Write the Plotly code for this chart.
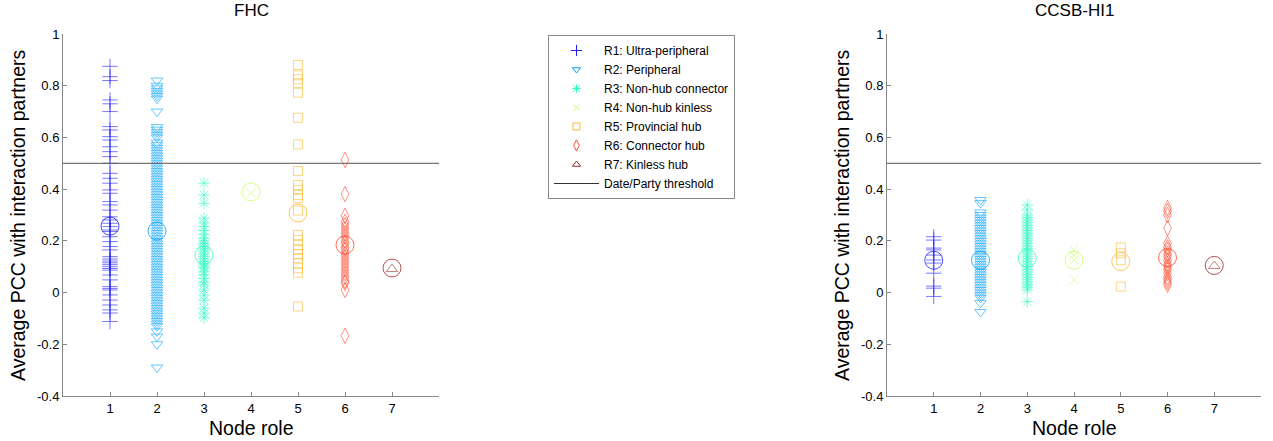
import plotly.graph_objects as go

# Node roles and their display styling
roles = ["R1: Ultra-peripheral", "R2: Peripheral", "R3: Non-hub connector",
         "R4: Non-hub kinless", "R5: Provincial hub", "R6: Connector hub",
         "R7: Kinless hub"]
role_pos = [1, 2, 3, 4, 5, 6, 7]
colors = ["#1f1fff", "#00a0ff", "#2effc4", "#c6ff6a", "#ffb92e", "#ff4a2e", "#9e2a2a"]
symbols = ["cross-thin-open", "triangle-down-open", "asterisk-open", "x-thin-open",
           "square-open", "diamond-tall-open", "triangle-up-open"]
sizes = [11, 10, 10, 9, 9, 11, 10]
legend_sizes = [8, 7, 7, 6, 7, 8, 7]

threshold = 0.5
y_ticks = [1, 0.8, 0.6, 0.4, 0.2, 0, -0.2, -0.4]
y_ticklabels = ["1", "0.8", "0.6", "0.4", "0.2", "0", "-0.2", "-0.4"]
x_ticks = [1, 2, 3, 4, 5, 6, 7]

# FHC: average PCC per protein, grouped by node role
fhc_r1 = [0.875, 0.835, 0.82, 0.745, 0.73, 0.70, 0.642, 0.629, 0.603, 0.59, 0.564,
          0.545, 0.526, 0.50, 0.461, 0.442, 0.423, 0.397, 0.384, 0.352, 0.339, 0.319,
          0.293, 0.281, 0.268, 0.255, 0.242, 0.236, 0.216, 0.197, 0.178, 0.165, 0.139,
          0.13, 0.122, 0.115, 0.108, 0.10, 0.093, 0.087, 0.068, 0.049, 0.023, 0.016,
          0.01, -0.009, -0.029, -0.048, -0.067, -0.079, -0.112]
fhc_r2 = [0.82, 0.80, 0.79, 0.78, 0.77, 0.76, 0.75, 0.70, 0.64, 0.63, 0.62, 0.61,
          0.60, 0.58, 0.57, 0.56, 0.55, 0.54, 0.53, 0.52, 0.51, 0.50, 0.49, 0.48,
          0.47, 0.46, 0.45, 0.44, 0.43, 0.42, 0.41, 0.40, 0.39, 0.38, 0.37, 0.36,
          0.35, 0.34, 0.33, 0.32, 0.31, 0.30, 0.29, 0.28, 0.27, 0.26, 0.25, 0.24,
          0.23, 0.22, 0.21, 0.20, 0.19, 0.18, 0.17, 0.16, 0.15, 0.14, 0.13, 0.12,
          0.11, 0.10, 0.09, 0.08, 0.07, 0.06, 0.05, 0.04, 0.03, 0.02, 0.01, 0.0,
          -0.01, -0.02, -0.03, -0.04, -0.05, -0.06, -0.07, -0.08, -0.09, -0.10,
          -0.11, -0.12, -0.13, -0.15, -0.17, -0.20, -0.29]
fhc_r3 = [0.423, 0.377, 0.345, 0.288, 0.27, 0.255, 0.24, 0.225, 0.21, 0.20, 0.19,
          0.18, 0.17, 0.16, 0.15, 0.14, 0.13, 0.12, 0.11, 0.10, 0.095, 0.08, 0.07,
          0.055, 0.04, 0.03, 0.01, -0.01, -0.03, -0.06, -0.08, -0.098]
fhc_r4 = [0.386]
fhc_r5 = [0.88, 0.84, 0.825, 0.81, 0.773, 0.676, 0.573, 0.47, 0.416, 0.397, 0.377,
          0.366, 0.317, 0.223, 0.203, 0.184, 0.165, 0.149, 0.133, 0.113, 0.094,
          0.077, -0.054]
fhc_r6 = [0.513, 0.381, 0.297, 0.274, 0.26, 0.245, 0.23, 0.216, 0.2, 0.19, 0.175,
          0.165, 0.15, 0.135, 0.12, 0.105, 0.09, 0.075, 0.06, 0.045, 0.037, 0.01,
          -0.167]
fhc_r7 = [0.091]
fhc_means = [0.257, 0.238, 0.145, 0.389, 0.308, 0.184, 0.095]

# CCSB-HI1: average PCC per protein, grouped by node role
hi1_r1 = [0.216, 0.203, 0.172, 0.165, 0.145, 0.126, 0.114, 0.075, 0.025, 0.017, -0.015]
hi1_r2 = [0.358, 0.346, 0.31, 0.30, 0.29, 0.28, 0.27, 0.26, 0.25, 0.24, 0.23, 0.22,
          0.21, 0.20, 0.19, 0.18, 0.17, 0.16, 0.15, 0.14, 0.13, 0.12, 0.11, 0.10,
          0.09, 0.08, 0.07, 0.06, 0.05, 0.04, 0.03, 0.02, 0.01, 0.0, -0.01, -0.02,
          -0.04, -0.075]
hi1_r3 = [0.339, 0.32, 0.30, 0.29, 0.28, 0.27, 0.26, 0.25, 0.24, 0.23, 0.22, 0.21,
          0.20, 0.19, 0.18, 0.17, 0.16, 0.15, 0.14, 0.13, 0.12, 0.11, 0.10, 0.09,
          0.08, 0.07, 0.06, 0.05, 0.04, 0.03, 0.02, 0.01, -0.035]
hi1_r4 = [0.165, 0.145, 0.126, 0.049]
hi1_r5 = [0.175, 0.152, 0.125, 0.023]
hi1_r6 = [0.327, 0.315, 0.30, 0.249, 0.19, 0.175, 0.165, 0.15, 0.14, 0.125, 0.11,
          0.10, 0.09, 0.075, 0.06, 0.05, 0.04, 0.03]
hi1_r7 = [0.103]
hi1_means = [0.125, 0.125, 0.133, 0.125, 0.12, 0.135, 0.105]

fhc_groups = [fhc_r1, fhc_r2, fhc_r3, fhc_r4, fhc_r5, fhc_r6, fhc_r7]
hi1_groups = [hi1_r1, hi1_r2, hi1_r3, hi1_r4, hi1_r5, hi1_r6, hi1_r7]

fig = go.Figure()


def add_panel(groups, means, xa, ya):
    for i, vals in enumerate(groups):
        fig.add_trace(go.Scatter(
            x=[role_pos[i]] * len(vals), y=vals, mode="markers",
            name=roles[i], showlegend=False,
            marker=dict(symbol=symbols[i], size=sizes[i], color=colors[i],
                        opacity=0.6, line=dict(width=1, color=colors[i])),
            xaxis=xa, yaxis=ya))
    for i, m in enumerate(means):
        fig.add_trace(go.Scatter(
            x=[role_pos[i]], y=[m], mode="markers", showlegend=False,
            marker=dict(symbol="circle-open", size=18, color=colors[i],
                        opacity=0.8, line=dict(width=1, color=colors[i])),
            xaxis=xa, yaxis=ya))
    fig.add_trace(go.Scatter(
        x=[0, 8], y=[threshold, threshold], mode="lines", showlegend=False,
        line=dict(color="#555555", width=1), xaxis=xa, yaxis=ya))


add_panel(fhc_groups, fhc_means, "x", "y")
add_panel(hi1_groups, hi1_means, "x2", "y2")

# Legend entries with compact symbols
for i in range(len(roles)):
    fig.add_trace(go.Scatter(
        x=[None], y=[None], mode="markers", name=roles[i], legendrank=i + 1,
        marker=dict(symbol=symbols[i], size=legend_sizes[i], color=colors[i],
                    line=dict(width=1, color=colors[i]))))
fig.add_trace(go.Scatter(
    x=[None], y=[None], mode="lines", name="Date/Party threshold", legendrank=8,
    line=dict(color="#333333", width=1)))

W, H = 1273, 441
left_dom = [63 / W, 439 / W]
right_dom = [887 / W, 1261 / W]

axis_font = dict(family="Liberation Sans, Arial, sans-serif", size=13, color="#000")
xaxis_common = dict(range=[0, 8], tickvals=x_ticks, ticks="inside", ticklen=4,
                    tickcolor="#888", showline=True, linecolor="#888", linewidth=1,
                    showgrid=False, zeroline=False, tickfont=axis_font)
yaxis_common = dict(range=[-0.4, 1], tickvals=y_ticks, ticktext=y_ticklabels,
                    ticks="inside", ticklen=4, tickcolor="#888", showline=True,
                    linecolor="#888", linewidth=1, showgrid=False, zeroline=False,
                    tickfont=axis_font, domain=[1 - 396 / H, 1 - 34 / H])

fig.update_layout(
    width=W, height=H,
    margin=dict(l=0, r=0, t=0, b=0, autoexpand=False),
    paper_bgcolor="white", plot_bgcolor="white",
    font=dict(family="Liberation Sans, Arial, sans-serif", color="#000"),
    xaxis=dict(domain=left_dom, anchor="y", **xaxis_common),
    yaxis=dict(anchor="x", **yaxis_common),
    xaxis2=dict(domain=right_dom, anchor="y2", **xaxis_common),
    yaxis2=dict(anchor="x2", **yaxis_common),
    showlegend=True,
    legend=dict(x=548 / W, y=1 - 35 / H, xanchor="left", yanchor="top",
                bgcolor="white", bordercolor="#888", borderwidth=1,
                font=dict(family="Liberation Sans, Arial, sans-serif", size=12,
                          color="#000"),
                tracegroupgap=0, itemwidth=45),
)

annotations = []
for dom, title in [(left_dom, "FHC"), (right_dom, "CCSB-HI1")]:
    cx = (dom[0] + dom[1]) / 2
    annotations.append(dict(text=title, x=cx, y=1 - 11 / H, xref="paper", yref="paper",
                            xanchor="center", yanchor="middle",
                            showarrow=False, font=dict(size=17)))
    annotations.append(dict(text="Node role", x=cx, y=1 - 428 / H, xref="paper",
                            yref="paper", xanchor="center", yanchor="middle",
                            showarrow=False, font=dict(size=19.5)))
    annotations.append(dict(text="Average PCC with interaction partners",
                            x=dom[0] - 45 / W, y=1 - 215 / H, xref="paper",
                            yref="paper", xanchor="center", yanchor="middle",
                            showarrow=False, textangle=-90,
                            font=dict(size=19.5)))
fig.update_layout(annotations=annotations)

fig.write_html("out.html")
